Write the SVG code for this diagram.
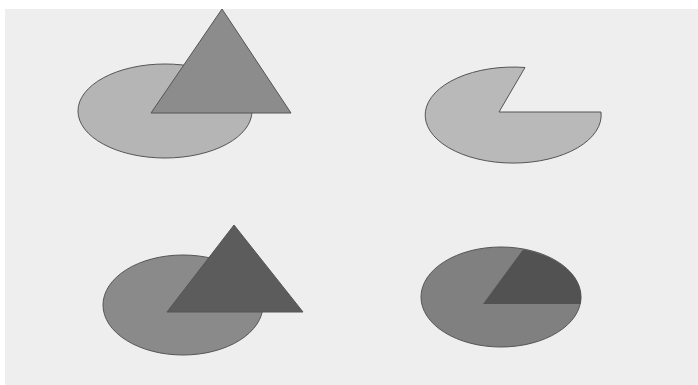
<svg xmlns="http://www.w3.org/2000/svg" width="698" height="385" viewBox="0 0 698 385">
<style>
.edge{stroke:#555;stroke-width:1}
</style>
<rect width="698" height="385" fill="#ffffff"/>
<rect x="5" y="9" width="693" height="376" fill="#eeeeee"/>
<g id="union-top-left">
<ellipse class="edge" cx="165" cy="111" rx="87" ry="47" fill="#b5b5b5"/>
<polygon class="edge" points="222,9 291,113 151,113" fill="#8c8c8c"/>
</g>
<g id="difference-top-right">
<path class="edge" d="M499,112 L525,67.5 A88,48 0 1 0 601,112 Z" fill="#b9b9b9"/>
</g>
<g id="union-bottom-left">
<ellipse class="edge" cx="183" cy="305" rx="80" ry="50" fill="#8a8a8a"/>
<polygon class="edge" points="234,225 303,312 167,312" fill="#5c5c5c"/>
</g>
<g id="intersection-bottom-right">
<ellipse class="edge" cx="501" cy="297" rx="80" ry="50" fill="#808080"/>
<path d="M483,304 L523,249.5 A80,50 0 0 1 580.5,304 Z" fill="#525252"/>
</g>
</svg>
